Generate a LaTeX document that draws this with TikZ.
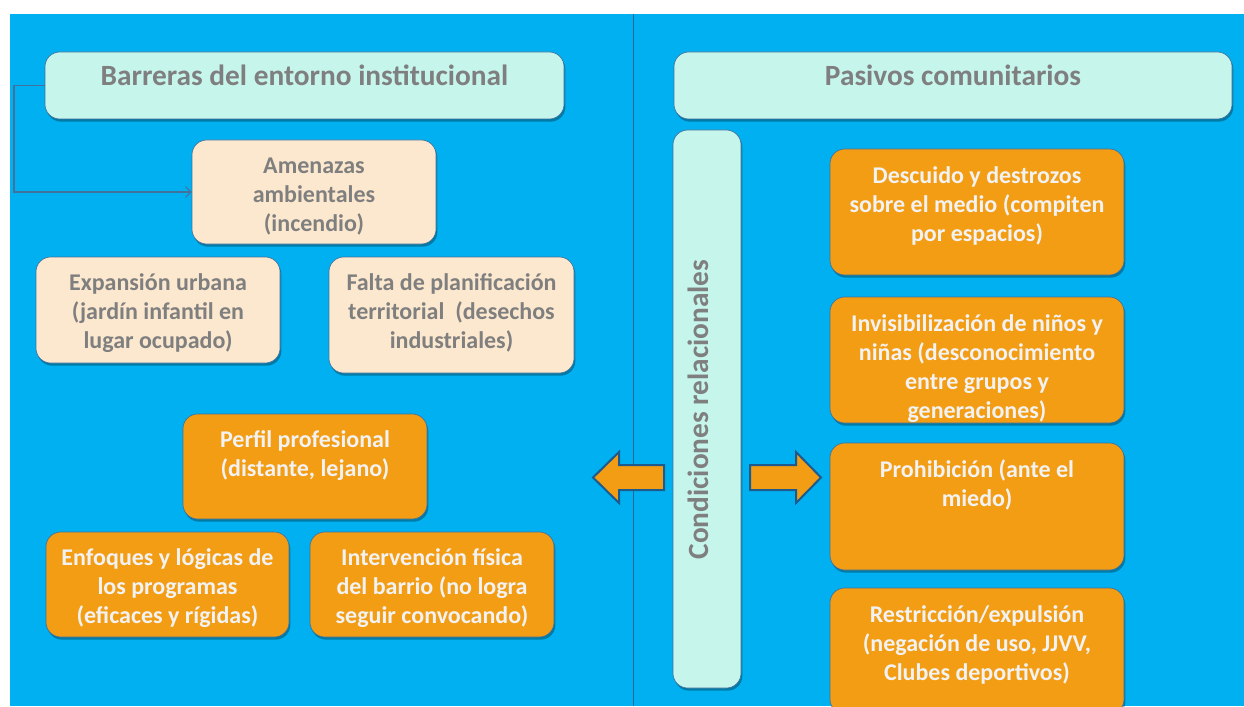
\documentclass[tikz,border=0pt]{standalone}
\usepackage{fontspec}
\setmainfont{Carlito}
\usetikzlibrary{arrows.meta,shadows}

\definecolor{bgblue}{RGB}{0,176,240}
\definecolor{mint}{RGB}{198,245,236}
\definecolor{beige}{RGB}{252,232,206}
\definecolor{orng}{RGB}{243,157,20}
\definecolor{txtgray}{RGB}{127,127,127}
\definecolor{txtwhite}{RGB}{242,242,242}
\definecolor{edgeblue}{RGB}{65,113,156}
\definecolor{arrowblue}{RGB}{31,90,140}
\definecolor{divline}{RGB}{40,100,150}

\tikzset{
  panel/.style={rounded corners=11pt, draw=edgeblue, line width=0.5pt, inner sep=0pt,
    drop shadow={shadow xshift=1pt, shadow yshift=-2pt, opacity=0.3, fill=black}},
  headbox/.style={panel, fill=mint},
  lightbox/.style={panel, fill=beige},
  orangebox/.style={panel, fill=orng},
  headtext/.style={font=\fontsize{22}{26}\selectfont\bfseries, text=txtgray, anchor=base, inner sep=0pt},
  lighttext/.style={font=\fontsize{18}{21.75}\selectfont\bfseries, text=txtgray, align=center, anchor=base, inner sep=0pt},
  orangetext/.style={lighttext, text=txtwhite},
  blockarrow/.style={draw=arrowblue, fill=orng, line width=1.5pt, line join=miter},
  link/.style={draw=edgeblue, line width=0.8pt, -{Straight Barb[length=4pt,width=8pt]}}
}

\begin{document}
\begin{tikzpicture}[x=0.75pt,y=0.75pt,yscale=-1,xscale=1]
\useasboundingbox (0,0) rectangle (1244,706);
\clip (0,0) rectangle (1244,706);

% background
\fill[white] (0,0) rectangle (1244,706);
\fill[bgblue] (10,14) rectangle (1244,706);
\draw[divline, line width=0.6pt] (633,14) -- (633,706);

% headers
\node[headbox, minimum width=389.25pt, minimum height=50.25pt] (barreras) at (304.5,85.5) {};
\node[headtext] (barrerasT) at (304.5,85.5) {Barreras del entorno institucional};
\node[headbox, minimum width=418.5pt, minimum height=50.25pt] (pasivos) at (953,85.5) {};
\node[headtext] (pasivosT) at (953,85.5) {Pasivos comunitarios};

% vertical bar
\node[headbox, minimum width=51pt, minimum height=418.5pt] (condiciones) at (707,409) {};
\node[headtext, anchor=center, rotate=90] (condicionesT) at (698.5,409.5) {Condiciones relacionales};

% left side, light boxes (text placed by the baseline of its last line)
\node[lightbox, minimum width=183pt, minimum height=78pt] (amenazas) at (314,192) {};
\node[lighttext] (amenazasT) at (314,231) {Amenazas\\ambientales\\(incendio)};
\node[lightbox, minimum width=183pt, minimum height=79.5pt] (expansion) at (158,310) {};
\node[lighttext] (expansionT) at (158,348) {Expansión urbana\\(jardín infantil en\\lugar ocupado)};
\node[lightbox, minimum width=183.75pt, minimum height=87pt] (falta) at (451.5,315) {};
\node[lighttext] (faltaT) at (451.5,348) {Falta de planificación\\territorial~~(desechos\\industriales)};

% left side, orange boxes
\node[orangebox, minimum width=183pt, minimum height=78.75pt] (perfil) at (305,466.5) {};
\node[orangetext] (perfilT) at (305,476) {Perfil profesional\\(distante, lejano)};
\node[orangebox, minimum width=182.25pt, minimum height=78.75pt] (enfoques) at (167.5,584.5) {};
\node[orangetext] (enfoquesT) at (167.5,623) {Enfoques y lógicas de\\los programas\\(eficaces y rígidas)};
\node[orangebox, minimum width=183pt, minimum height=78.75pt] (intervencion) at (432,584.5) {};
\node[orangetext] (intervencionT) at (432,623) {Intervención física\\del barrio (no logra\\seguir convocando)};

% right side, orange boxes
\node[orangebox, minimum width=220.5pt, minimum height=94.5pt] (descuido) at (977,212) {};
\node[orangetext] (descuidoT) at (977,241) {Descuido y destrozos\\sobre el medio (compiten\\por espacios)};
\node[orangebox, minimum width=220.5pt, minimum height=94.5pt] (invisib) at (977,360) {};
\node[orangetext] (invisibT) at (977,418) {Invisibilización de niños y\\niñas (desconocimiento\\entre grupos y\\generaciones)};
\node[orangebox, minimum width=220.5pt, minimum height=95.25pt] (prohibicion) at (977,506.5) {};
\node[orangetext] (prohibicionT) at (977,506) {Prohibición (ante el\\miedo)};
\node[orangebox, minimum width=220.5pt, minimum height=94.5pt] (restriccion) at (977,651) {};
\node[orangetext] (restriccionT) at (977,680) {Restricción/expulsión\\(negación de uso, JJVV,\\Clubes deportivos)};

% block arrows
\draw[blockarrow] (593,477.5) -- (619,452) -- (619,465) -- (664,465) -- (664,490) -- (619,490) -- (619,503) -- cycle;
\draw[blockarrow] (821,477.5) -- (796,452) -- (796,465) -- (750,465) -- (750,490) -- (796,490) -- (796,503) -- cycle;

% connector
\coordinate (bend) at (14,192);
\draw[link] (barreras.west) -| (bend) -- (amenazas.west);

\end{tikzpicture}
\end{document}
